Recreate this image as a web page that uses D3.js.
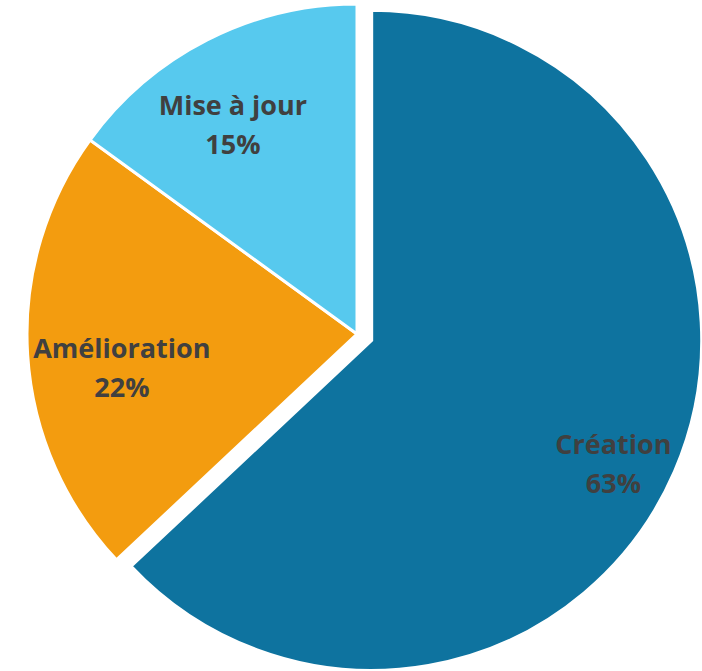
<!DOCTYPE html>
<html><head><meta charset="utf-8">
<script src="https://cdn.jsdelivr.net/npm/d3@7"></script>
<style>html,body{margin:0;padding:0;background:#fff;}svg{display:block;}</style>
</head><body>
<svg id="chart" width="702" height="671"></svg>
<script>
const categories = ["Création", "Amélioration", "Mise à jour"];
const values = [63, 22, 15];
const labels = ["63%", "22%", "15%"];
const colors = ["#0E739F", "#F39C0F", "#57C9EE"];
const explode = [16, 0, 0];
const labelRadius = [0.818, 0.717, 0.735];
const labelNudge = [[-6, 16], [1, 19], [-14, 7]];

const svg = d3.select("#chart");
const cx = 357, cy = 334, r = 330;
const pie = d3.pie().sort(null).value(d => d.v);
const data = categories.map((c, i) => ({c, v: values[i], i}));
const arcs = pie(data);
const arc = d3.arc().innerRadius(0).outerRadius(r);
const g = svg.append("g").attr("transform", `translate(${cx},${cy})`);

function offset(d) {
  const mid = (d.startAngle + d.endAngle) / 2;
  const e = explode[d.data.i];
  return [Math.sin(mid) * e, -Math.cos(mid) * e];
}

const sl = g.selectAll("g.slice").data(arcs).join("g").attr("class", "slice")
  .attr("transform", d => { const o = offset(d); return `translate(${o[0]},${o[1]})`; });
sl.append("path").attr("d", arc).attr("fill", d => colors[d.data.i])
  .attr("stroke", "#fff").attr("stroke-width", 3).attr("stroke-linejoin", "miter");

sl.each(function(d) {
  const mid = (d.startAngle + d.endAngle) / 2;
  const lr = r * labelRadius[d.data.i];
  const x = Math.sin(mid) * lr + labelNudge[d.data.i][0];
  const y = -Math.cos(mid) * lr + labelNudge[d.data.i][1];
  const t = d3.select(this).append("text")
    .attr("text-anchor", "middle")
    .attr("font-family", "'Open Sans', Lato, sans-serif")
    .attr("font-weight", "bold").attr("font-size", 27).attr("fill", "#404040");
  t.append("tspan").attr("x", x).attr("y", y - 10).text(d.data.c);
  t.append("tspan").attr("x", x).attr("y", y + 29).text(labels[d.data.i]);
});
</script>
</body></html>
